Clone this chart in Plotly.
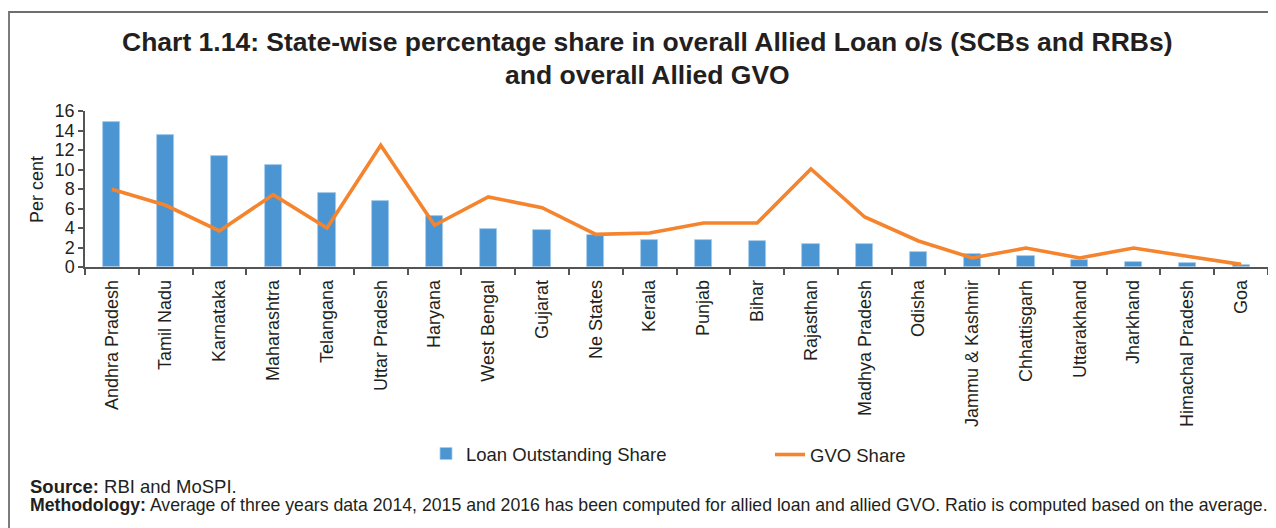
import plotly.graph_objects as go

# datos
estados = ["Andhra Pradesh", "Tamil Nadu", "Karnataka", "Maharashtra", "Telangana",
           "Uttar Pradesh", "Haryana", "West Bengal", "Gujarat", "Ne States", "Kerala",
           "Punjab", "Bihar", "Rajasthan", "Madhya Pradesh", "Odisha", "Jammu & Kashmir",
           "Chhattisgarh", "Uttarakhand", "Jharkhand", "Himachal Pradesh", "Goa"]
loan_share = [14.85, 13.58, 11.35, 10.46, 7.63, 6.74, 5.2, 3.94, 3.76, 3.25, 2.74,
              2.74, 2.64, 2.36, 2.36, 1.58, 1.3, 1.1, 0.69, 0.55, 0.41, 0.17]
gvo_share = [7.97, 6.33, 3.7, 7.42, 4.0, 12.48, 4.28, 7.18, 6.09, 3.35, 3.49,
             4.51, 4.51, 10.05, 5.13, 2.67, 0.93, 1.95, 0.93, 1.95, 1.1, 0.27]
y_ticks = [0, 2, 4, 6, 8, 10, 12, 14, 16]

# la pagina html deja 8px de margen en el body, asi que la figura es 8px mas chica
OFF = 8
W, H = 1276 - OFF, 528 - OFF
L, R, T, B = 77, 8, 103, 261
PW, PH = W - L - R, H - T - B

# posiciones en pixeles de la ventana -> coordenadas paper / container
def px_x(px):
    return (px - OFF - L) / PW

def px_y(py):
    return (H - B - (py - OFF)) / PH

def cx(px):
    return (px - OFF) / W

def cy(py):
    return 1 - (py - OFF) / H

FONT = "Liberation Sans, Arial, sans-serif"
NEGRO = "#231f20"

fig = go.Figure()
fig.add_trace(go.Bar(
    x=estados, y=loan_share, name="Loan Outstanding Share",
    marker=dict(color="#4b96d2", line=dict(color="#a6cbea", width=0.8)),
    width=0.32, legend="legend", showlegend=True,
))
fig.add_trace(go.Scatter(
    x=estados, y=gvo_share, name="GVO Share", mode="lines",
    line=dict(color="#f5842e", width=3.6), legend="legend2", showlegend=True,
))

fig.update_layout(
    width=W, height=H,
    margin=dict(l=L, r=R, t=T, b=B, autoexpand=False),
    paper_bgcolor="white", plot_bgcolor="white",
    font=dict(family=FONT, color=NEGRO),
    bargap=0, showlegend=True,
    legend=dict(xref="container", yref="container", x=cx(426), y=cy(454),
                xanchor="left", yanchor="middle",
                font=dict(size=18.5, color=NEGRO), bgcolor="rgba(0,0,0,0)"),
    legend2=dict(xref="container", yref="container", x=cx(770), y=cy(455),
                 xanchor="left", yanchor="middle",
                 font=dict(size=18.5, color=NEGRO), bgcolor="rgba(0,0,0,0)"),
)

fig.update_xaxes(
    type="category", range=[-0.5, len(estados) - 0.5],
    showline=True, linecolor="#555555", linewidth=1.5,
    ticks="outside", tickson="boundaries", ticklen=6, tickcolor="#555555", tickwidth=1.5,
    tickangle=-90, tickfont=dict(size=18, color=NEGRO), ticklabelstandoff=4,
    showgrid=False, zeroline=False,
)
fig.update_yaxes(
    range=[0, 16], tickvals=y_ticks,
    showline=True, linecolor="#555555", linewidth=1.5,
    ticks="outside", ticklen=5, tickcolor="#555555", tickwidth=1.5,
    tickfont=dict(size=18, color=NEGRO),
    showgrid=False, zeroline=False,
)

# titulo del eje y
fig.add_annotation(text="Per cent", xref="paper", yref="paper",
                   x=px_x(37), y=px_y(190), xanchor="center", yanchor="middle",
                   textangle=-90, showarrow=False, font=dict(size=18, color=NEGRO))

# titulo en dos lineas
for texto, py in [("Chart 1.14: State-wise percentage share in overall Allied Loan o/s (SCBs and RRBs)", 42),
                  ("and overall Allied GVO", 75)]:
    fig.add_annotation(text="<b>" + texto + "</b>", xref="paper", yref="paper",
                       x=px_x(647), y=px_y(py), xanchor="center", yanchor="middle",
                       showarrow=False, font=dict(size=26.5, color=NEGRO))

# notas al pie
fig.add_annotation(text="<b>Source:</b> RBI and MoSPI.", xref="paper", yref="paper",
                   x=px_x(28), y=px_y(486), xanchor="left", yanchor="middle",
                   showarrow=False, font=dict(size=18.5, color=NEGRO))
fig.add_annotation(text="<b>Methodology:</b> Average of three years data 2014, 2015 and 2016 has been computed "
                        "for allied loan and allied GVO. Ratio is computed based on the average.",
                   xref="paper", yref="paper",
                   x=px_x(28), y=px_y(505), xanchor="left", yanchor="middle",
                   showarrow=False, font=dict(size=17.7, color=NEGRO))

# marco del grafico
fig.add_shape(type="path", xref="paper", yref="paper",
              path=f"M {px_x(9)} {px_y(530)} L {px_x(9)} {px_y(12)} L {px_x(1278)} {px_y(12)}",
              line=dict(color="#6d6e71", width=1.8))

fig.write_html("out.html")
